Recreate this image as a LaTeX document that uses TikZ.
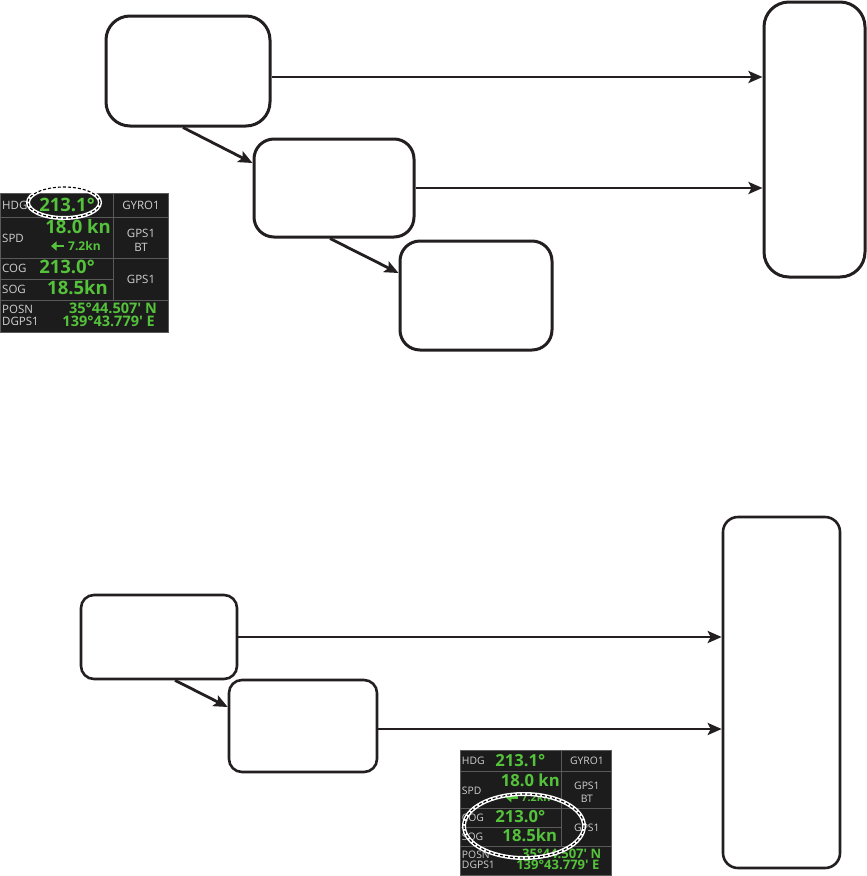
\documentclass[tikz,border=0pt]{standalone}
\usepackage{fontspec}
\newfontfamily\dispfont{Open Sans}
\usetikzlibrary{arrows.meta}
\definecolor{lc}{HTML}{231F20}
\definecolor{dgreen}{HTML}{55C23B}
\definecolor{dbg}{HTML}{1C1C1C}
\definecolor{dgrid}{HTML}{5A5A5A}
\definecolor{dlab}{HTML}{D0D0D0}
\tikzset{
  tbox/.style={draw=lc, line width=3pt, inner sep=0pt},
  bbox/.style={draw=lc, line width=2.6pt, inner sep=0pt},
  conn/.style={draw=lc, line width=2.8pt, -{Stealth[length=14pt,width=12pt,inset=3pt]}},
  lab/.style={inner sep=0pt, text=dlab, font=\dispfont\fontsize{11.5}{11.5}\selectfont},
  bigv/.style={inner sep=0pt, text=dgreen, font=\dispfont\bfseries\fontsize{18.5}{18.5}\selectfont},
  midv/.style={inner sep=0pt, text=dgreen, font=\dispfont\bfseries\fontsize{12}{12}\selectfont},
  posv/.style={inner sep=0pt, text=dgreen, font=\dispfont\bfseries\fontsize{14.5}{14.5}\selectfont},
  gridl/.style={draw=dgrid, line width=0.8pt},
  ringw/.style={draw=white, line width=4pt},
  ringd/.style={draw=black, line width=1.1pt, dash pattern=on 3pt off 2pt},
}
\newcommand\dispanel[4]{%
  \begin{scope}[shift={(#1,#2)}, scale=#3, transform shape]
    \fill[dbg] (0,0) rectangle (168,139);
    \draw[gridl] (0,0) rectangle (168,139);
    \draw[gridl] (0,24) -- (168,24);
    \draw[gridl] (0,65) -- (168,65);
    \draw[gridl] (0,86) -- (113,86);
    \draw[gridl] (0,107) -- (168,107);
    \draw[gridl] (113,0) -- (113,107);
    \node[lab, anchor=west] (#4hdg) at (2,12) {HDG};
    \node[bigv] (#4hdgv) at (67,12) {213.1°};
    \node[lab] (#4gyro) at (141,12) {GYRO1};
    \node[lab, anchor=west] (#4spd) at (2,45) {SPD};
    \node[bigv, anchor=east] (#4spdv) at (111,34) {18.0 kn};
    \draw[dgreen, line width=2.8pt, -{Triangle[length=5.5pt,width=9pt]}] (64,53) -- (51,53);
    \node[midv, anchor=west] (#4drift) at (68,53) {7.2kn};
    \node[lab] (#4gpsa) at (141,40) {GPS1};
    \node[lab] (#4bt) at (141,54) {BT};
    \node[lab, anchor=west] (#4cog) at (2,75) {COG};
    \node[bigv] (#4cogv) at (67,74) {213.0°};
    \node[lab, anchor=west] (#4sog) at (2,96) {SOG};
    \node[bigv, anchor=east] (#4sogv) at (108,95) {18.5kn};
    \node[lab] (#4gpsb) at (141,86) {GPS1};
    \node[lab, anchor=west] (#4posn) at (2,116) {POSN};
    \node[lab, anchor=west] (#4dgps) at (2,128) {DGPS1};
    \node[posv, anchor=east] (#4lat) at (157,115) {35°44.507' N};
    \node[posv, anchor=east] (#4lon) at (155,128) {139°43.779' E};
  \end{scope}%
}
\begin{document}
\begin{tikzpicture}[x=1pt, y=-1pt]
\useasboundingbox (0,0) rectangle (867,876);
% ---------- upper diagram ----------
\node[tbox, rounded corners=24pt, minimum width=164pt, minimum height=110pt] (A) at (188,71) {};
\node[tbox, rounded corners=20pt, minimum width=160pt, minimum height=98pt] (B) at (334,188) {};
\node[tbox, rounded corners=20pt, minimum width=152pt, minimum height=109pt] (C) at (476,295.5) {};
\node[tbox, rounded corners=25pt, minimum width=101pt, minimum height=275pt] (R1) at (814.5,139.5) {};
\draw[conn] ([yshift=-6pt]A.east) -- ([yshift=-6pt]A.east -| R1.west);
\draw[conn] (B.east) -- (B.east -| R1.west);
\draw[conn] ([xshift=-5pt]A.south) -- ([yshift=25pt]B.west);
\draw[conn] ([xshift=-4pt]B.south) -- ([yshift=22.5pt]C.west);
% ---------- lower diagram ----------
\node[bbox, rounded corners=13pt, minimum width=156pt, minimum height=84pt] (D) at (159,637) {};
\node[bbox, rounded corners=13pt, minimum width=148pt, minimum height=92pt] (E) at (303,726) {};
\node[bbox, rounded corners=15pt, minimum width=117pt, minimum height=351pt] (R2) at (781.5,692.5) {};
\draw[conn] (D.east) -- (D.east -| R2.west);
\draw[conn] ([yshift=-3pt]E.east) -- ([yshift=-3pt]E.east -| R2.west);
\draw[conn] ([xshift=16pt]D.south) -- ([yshift=19pt]E.west);
% ---------- display panels ----------
\dispanel{0}{193}{1}{pa}
\dispanel{460}{750}{0.9}{pb}
% ---------- highlight rings ----------
\draw[ringw] (64,202.5) ellipse [x radius=36, y radius=15.5];
\draw[ringd] (64,202.5) ellipse [x radius=36, y radius=15.5];
\draw[ringw] (524,826) ellipse [x radius=60, y radius=32];
\draw[ringd] (524,826) ellipse [x radius=60, y radius=32];
\end{tikzpicture}
\end{document}
